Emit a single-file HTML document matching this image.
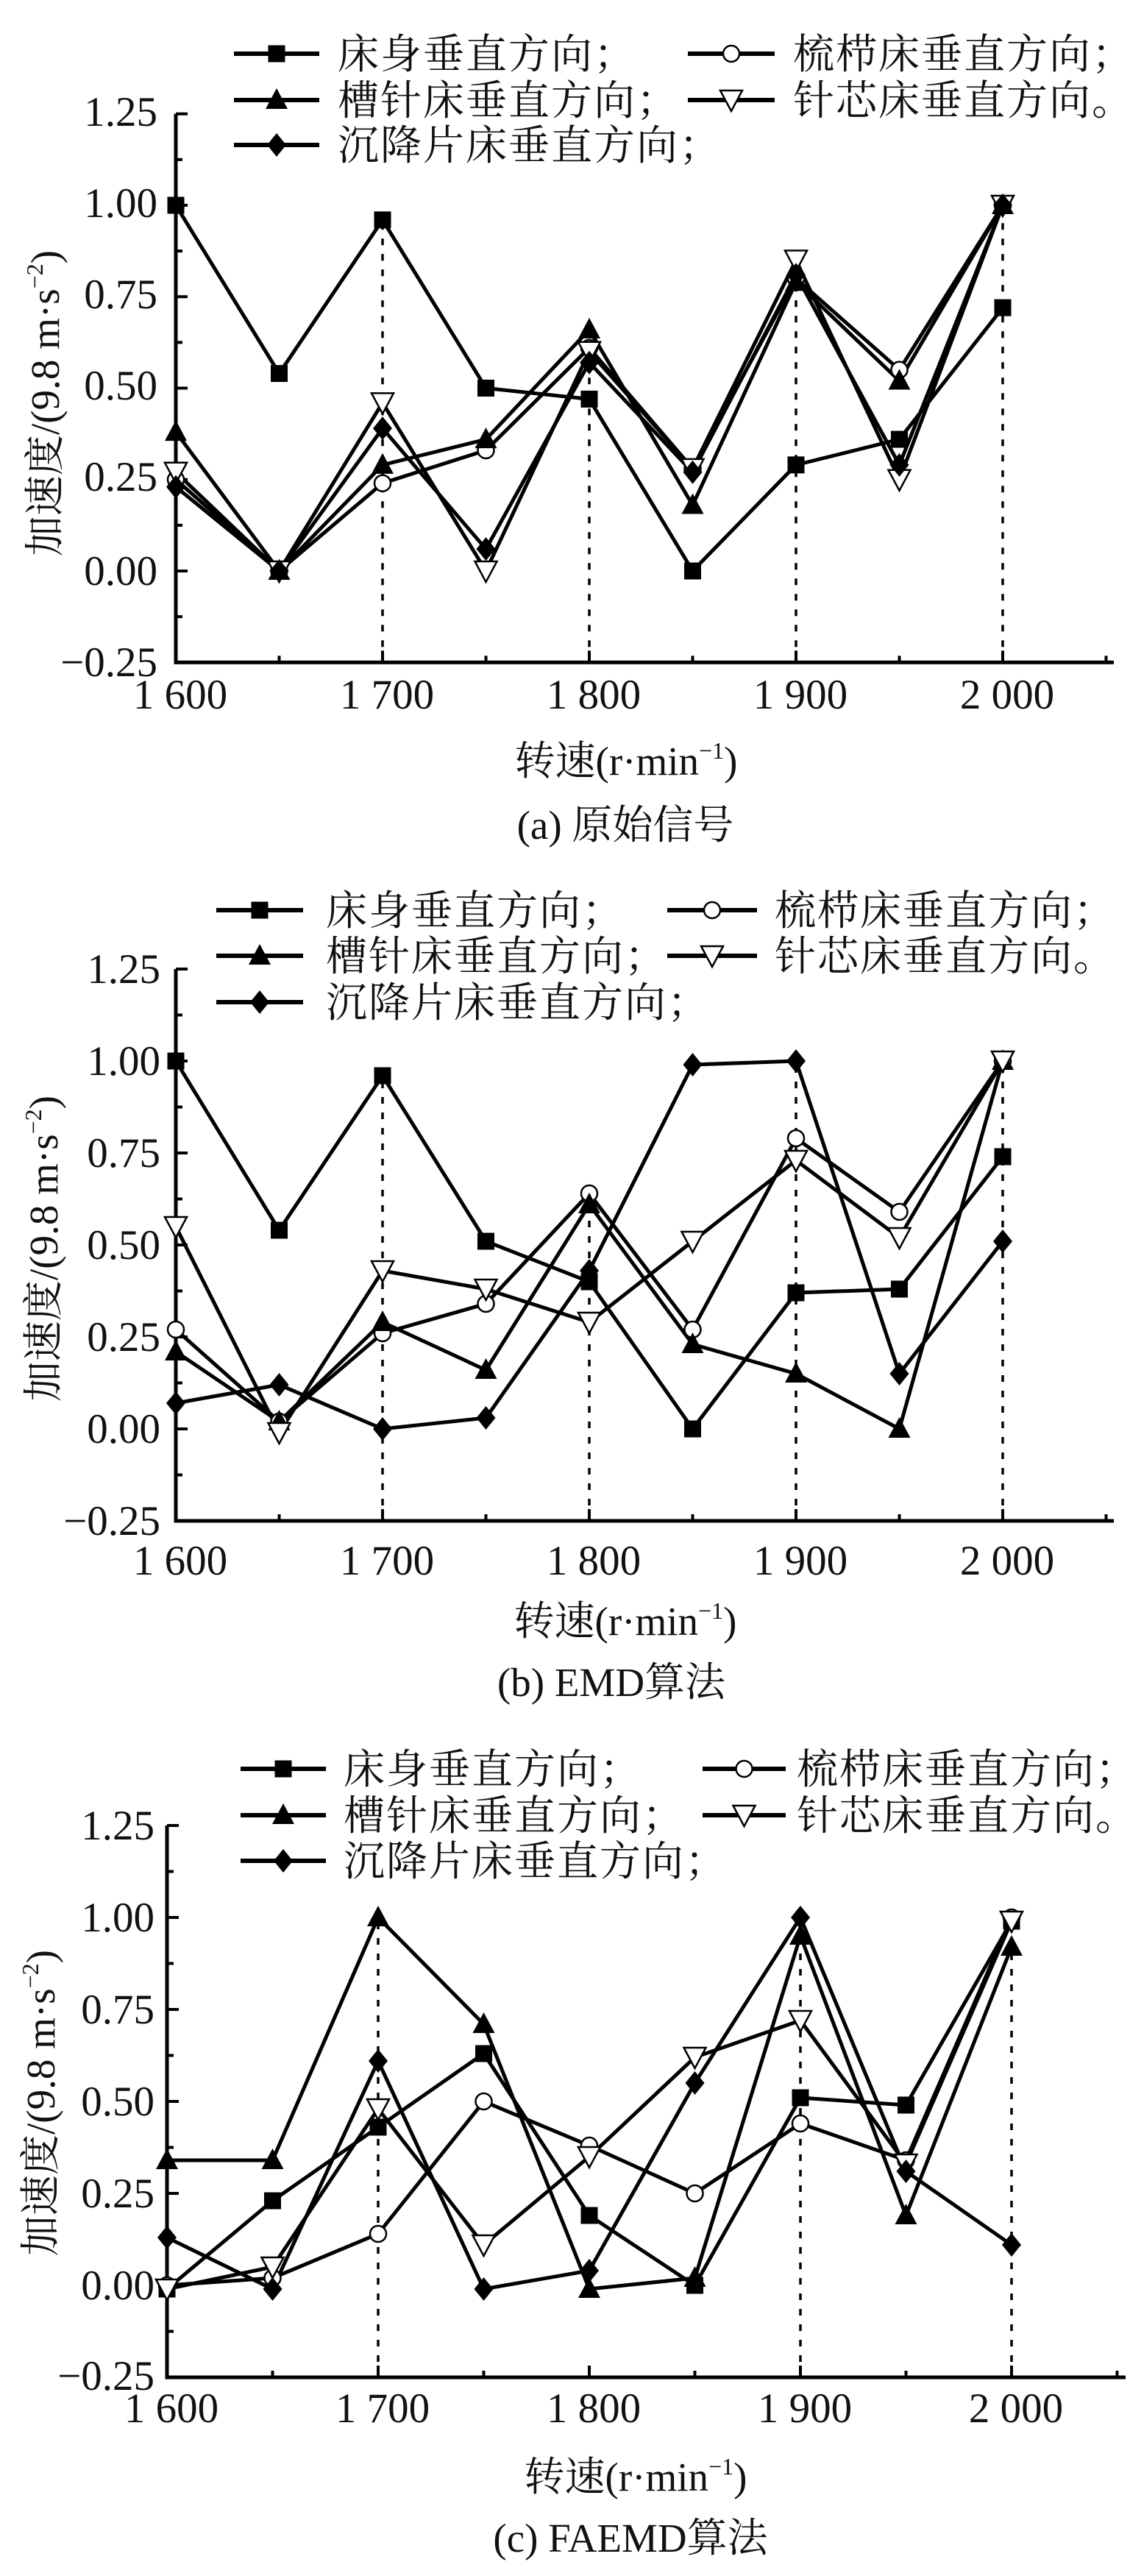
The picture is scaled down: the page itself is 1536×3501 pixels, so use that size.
<!DOCTYPE html>
<html><head><meta charset="utf-8">
<style>
html,body{margin:0;padding:0;background:#fff;}
svg{display:block;}
text{font-family:"Liberation Serif","Noto Serif CJK SC","Noto Sans CJK SC",serif;fill:#111;}
.cj{font-family:"Liberation Serif","Noto Serif CJK SC","Noto Sans CJK SC",serif;}
.lg{letter-spacing:2px;}
</style></head>
<body>
<svg id="s" width="1536" height="3501" viewBox="0 0 1536 3501" xmlns="http://www.w3.org/2000/svg">
<rect width="1536" height="3501" fill="#fff"/>
<g id="plots"></g>

<!-- Panel a texts -->
<g font-size="57" text-anchor="end">
<text x="214" y="171">1.25</text><text x="214" y="295">1.00</text><text x="214" y="419">0.75</text><text x="214" y="543">0.50</text><text x="214" y="667">0.25</text><text x="214" y="795">0.00</text><text x="214" y="919">−0.25</text>
</g>
<g font-size="57" text-anchor="middle">
<text x="245" y="963">1 600</text><text x="526" y="963">1 700</text><text x="807" y="963">1 800</text><text x="1088" y="963">1 900</text><text x="1369" y="963">2 000</text>
</g>
<text class="cj" x="851" y="1053" font-size="55" text-anchor="middle">转速(r·min<tspan font-size="32" dy="-22">−1</tspan><tspan dy="22">)</tspan></text>
<text class="cj" x="850" y="1140" font-size="55" text-anchor="middle">(a) 原始信号</text>
<text class="cj" transform="translate(80,548) rotate(-90)" font-size="55" text-anchor="middle">加速度/(9.8 m·s<tspan font-size="32" dy="-22">−2</tspan><tspan dy="22">)</tspan></text>
<g class="cj lg" font-size="56">
<text x="459" y="93">床身垂直方向；</text><text x="1078" y="93">梳栉床垂直方向；</text>
<text x="459" y="156">槽针床垂直方向；</text><text x="1078" y="156">针芯床垂直方向。</text>
<text x="459" y="217">沉降片床垂直方向；</text>
</g>

<!-- Panel b texts -->
<g font-size="57" text-anchor="end">
<text x="218" y="1336">1.25</text><text x="218" y="1461">1.00</text><text x="218" y="1586">0.75</text><text x="218" y="1711">0.50</text><text x="218" y="1836">0.25</text><text x="218" y="1961">0.00</text><text x="218" y="2086">−0.25</text>
</g>
<g font-size="57" text-anchor="middle">
<text x="245" y="2140">1 600</text><text x="526" y="2140">1 700</text><text x="807" y="2140">1 800</text><text x="1088" y="2140">1 900</text><text x="1369" y="2140">2 000</text>
</g>
<text class="cj" x="850" y="2222" font-size="55" text-anchor="middle">转速(r·min<tspan font-size="32" dy="-22">−1</tspan><tspan dy="22">)</tspan></text>
<text class="cj" x="831" y="2305" font-size="55" text-anchor="middle">(b) EMD算法</text>
<text class="cj" transform="translate(78,1697) rotate(-90)" font-size="55" text-anchor="middle">加速度/(9.8 m·s<tspan font-size="32" dy="-22">−2</tspan><tspan dy="22">)</tspan></text>
<g class="cj lg" font-size="56">
<text x="443" y="1257">床身垂直方向；</text><text x="1053" y="1257">梳栉床垂直方向；</text>
<text x="443" y="1319">槽针床垂直方向；</text><text x="1053" y="1319">针芯床垂直方向。</text>
<text x="443" y="1382">沉降片床垂直方向；</text>
</g>

<!-- Panel c texts -->
<g font-size="57" text-anchor="end">
<text x="210" y="2500">1.25</text><text x="210" y="2625">1.00</text><text x="210" y="2750">0.75</text><text x="210" y="2875">0.50</text><text x="210" y="3000">0.25</text><text x="210" y="3125">0.00</text><text x="210" y="3248">−0.25</text>
</g>
<g font-size="57" text-anchor="middle">
<text x="233" y="3292">1 600</text><text x="520" y="3292">1 700</text><text x="807" y="3292">1 800</text><text x="1094" y="3292">1 900</text><text x="1381" y="3292">2 000</text>
</g>
<text class="cj" x="864" y="3385" font-size="55" text-anchor="middle">转速(r·min<tspan font-size="32" dy="-22">−1</tspan><tspan dy="22">)</tspan></text>
<text class="cj" x="857" y="3468" font-size="55" text-anchor="middle">(c) FAEMD算法</text>
<text class="cj" transform="translate(74,2858) rotate(-90)" font-size="55" text-anchor="middle">加速度/(9.8 m·s<tspan font-size="32" dy="-22">−2</tspan><tspan dy="22">)</tspan></text>
<g class="cj lg" font-size="56">
<text x="467" y="2424">床身垂直方向；</text><text x="1083" y="2424">梳栉床垂直方向；</text>
<text x="467" y="2487">槽针床垂直方向；</text><text x="1083" y="2487">针芯床垂直方向。</text>
<text x="467" y="2549">沉降片床垂直方向；</text>
</g>
</svg>
<script>
(function(){
var NS="http://www.w3.org/2000/svg";
var g=document.getElementById("plots");
function el(t,a){var e=document.createElementNS(NS,t);for(var k in a)e.setAttribute(k,a[k]);g.appendChild(e);return e;}
function marker(type,x,y){
  if(type==="sq") el("rect",{x:x-11.5,y:y-11.5,width:23,height:23,fill:"#000"});
  else if(type==="ci") el("circle",{cx:x,cy:y,r:11,fill:"#fff",stroke:"#000","stroke-width":2.5});
  else if(type==="tr") el("polygon",{points:(x)+","+(y-16)+" "+(x-15)+","+(y+12)+" "+(x+15)+","+(y+12),fill:"#000"});
  else if(type==="it") el("polygon",{points:(x)+","+(y+15)+" "+(x-15)+","+(y-13)+" "+(x+15)+","+(y-13),fill:"#fff",stroke:"#000","stroke-width":2.5});
  else if(type==="di") el("polygon",{points:(x)+","+(y-16)+" "+(x+13)+","+y+" "+(x)+","+(y+16)+" "+(x-13)+","+y,fill:"#000"});
}
var types=["sq","ci","tr","it","di"];
function panel(P){
  var X=function(i){return P.x0+i*P.s;}, Y=function(v){return P.y0-v*P.k;};
  P.dots.forEach(function(d){el("line",{x1:X(d[0]),y1:Y(-0.25),x2:X(d[0]),y2:Y(d[1]),stroke:"#000","stroke-width":3.5,"stroke-dasharray":"9,12"});});
  var yb=Y(-0.25), yt=Y(1.25);
  el("path",{d:"M"+P.x0+" "+yt+" L"+P.x0+" "+yb+" L"+P.xr+" "+yb,fill:"none",stroke:"#000","stroke-width":5});
  for(var i=0;i<=12;i++){var v=-0.25+i*0.125;var len=(i%2===0)?16:9;el("line",{x1:P.x0,y1:Y(v),x2:P.x0+len,y2:Y(v),stroke:"#000","stroke-width":4});}
  for(var j=1;j<=9;j++){var len2=(j%2===0)?16:9;el("line",{x1:X(j),y1:yb,x2:X(j),y2:yb-len2,stroke:"#000","stroke-width":4});}
  P.data.forEach(function(arr,si){
    var d="";arr.forEach(function(v,i){d+=(i?"L":"M")+X(i)+" "+Y(v)+" ";});
    el("path",{d:d,fill:"none",stroke:"#000","stroke-width":5,"stroke-linejoin":"miter"});
  });
  P.data.forEach(function(arr,si){arr.forEach(function(v,i){marker(types[si],X(i),Y(v));});});
  var L=P.leg;
  var rows=[[L.c1,L.r[0],0],[L.c2,L.r[0],1],[L.c1,L.r[1],2],[L.c2,L.r[1],3],[L.c1,L.r[2],4]];
  rows.forEach(function(r){var c=r[0];el("line",{x1:c[0],y1:r[1],x2:c[1],y2:r[1],stroke:"#000","stroke-width":6});marker(types[r[2]],(c[0]+c[1])/2,r[1]);});
}
panel({x0:239,s:140.5,y0:776,k:497,xr:1514,
 dots:[[2,0.96],[4,0.66],[6,0.85],[8,1.0]],
 data:[[1.00,0.54,0.96,0.50,0.47,0.00,0.29,0.36,0.72],
       [0.25,0.00,0.24,0.33,0.61,0.28,0.80,0.55,1.00],
       [0.38,0.00,0.29,0.36,0.66,0.18,0.79,0.52,1.00],
       [0.27,0.00,0.46,0.00,0.60,0.28,0.85,0.25,1.00],
       [0.23,0.00,0.39,0.06,0.57,0.27,0.81,0.29,1.00]],
 leg:{c1:[318,434],c2:[935,1053],r:[73,136,197]}});
panel({x0:239,s:140.5,y0:1942,k:500,xr:1514,
 dots:[[2,0.96],[4,0.64],[6,1.0],[8,1.0]],
 data:[[1.00,0.54,0.96,0.51,0.40,0.00,0.37,0.38,0.74],
       [0.27,0.02,0.26,0.34,0.64,0.27,0.79,0.59,1.00],
       [0.21,0.02,0.29,0.16,0.61,0.23,0.15,0.00,1.00],
       [0.55,-0.01,0.43,0.38,0.29,0.51,0.73,0.52,1.00],
       [0.07,0.12,0.00,0.03,0.43,0.99,1.00,0.15,0.51]],
 leg:{c1:[294,412],c2:[907,1029],r:[1237,1299,1362]}});
panel({x0:227,s:143.5,y0:3106,k:500,xr:1530,
 dots:[[2,1.0],[6,1.0],[8,1.0]],
 data:[[-0.01,0.23,0.43,0.63,0.19,0.00,0.51,0.49,0.99],
       [0.00,0.02,0.14,0.50,0.38,0.25,0.44,0.34,1.00],
       [0.34,0.34,1.00,0.71,-0.01,0.02,0.95,0.19,0.92],
       [-0.01,0.05,0.48,0.11,0.35,0.62,0.72,0.33,0.99],
       [0.13,-0.01,0.61,-0.01,0.04,0.55,1.00,0.31,0.11]],
 leg:{c1:[327,443],c2:[955,1068],r:[2404,2467,2529]}});
})();
</script>
</body></html>
